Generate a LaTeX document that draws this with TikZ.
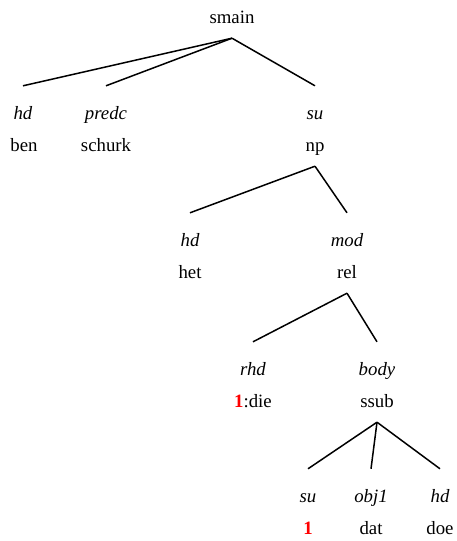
\documentclass[tikz,border=0pt]{standalone}
\usepackage{xcolor}
\usepackage{fontspec}
\setmainfont{Liberation Serif}
\usepackage{tikz}

\begin{document}
\begin{tikzpicture}[
    x=1pt, y=-1pt,
    cat/.style={anchor=base, inner sep=0pt, text depth=15pt, font=\fontsize{18.8}{22}\selectfont},
    rel/.style={anchor=base, inner sep=0pt, text height=33pt, font=\fontsize{18.8}{22}\selectfont\itshape},
    branch/.style={line width=1.5pt}
]
    \useasboundingbox (0,0) rectangle (456,541);

    % Root
    \node[cat] (smain) at (232,23) {smain};

    % Daughters of smain
    \node[rel] (r1) at (23,119) {hd};
    \node[cat] (ben) at (24,151) {ben};
    \node[rel] (r2) at (106,119) {predc};
    \node[cat] (schurk) at (106,151) {schurk};
    \node[rel] (r3) at (315,119) {su};
    \node[cat] (np) at (315,151) {np};

    % Daughters of np
    \node[rel] (r4) at (190,246) {hd};
    \node[cat] (het) at (190,278) {het};
    \node[rel] (r5) at (347,246) {mod};
    \node[cat] (rel) at (347,278) {rel};

    % Daughters of rel
    \node[rel] (r6) at (253,375) {rhd};
    \node[cat] (die) at (253,407) {\textcolor{red}{\textbf{1}}:die};
    \node[rel] (r7) at (377,375) {body};
    \node[cat] (ssub) at (377,407) {ssub};

    % Daughters of ssub
    \node[rel] (r8) at (308,502) {su};
    \node[cat] (idx) at (308,534) {\textcolor{red}{\textbf{1}}};
    \node[rel] (r9) at (371,502) {obj1};
    \node[cat] (dat) at (371,534) {dat};
    \node[rel] (r10) at (440,502) {hd};
    \node[cat] (doe) at (440,534) {doe};

    % Branches
    \draw[branch] (smain.south) -- (r1.north);
    \draw[branch] (smain.south) -- (r2.north);
    \draw[branch] (smain.south) -- (r3.north);
    \draw[branch] (np.south) -- (r4.north);
    \draw[branch] (np.south) -- (r5.north);
    \draw[branch] (rel.south) -- (r6.north);
    \draw[branch] (rel.south) -- (r7.north);
    \draw[branch] (ssub.south) -- (r8.north);
    \draw[branch] (ssub.south) -- (r9.north);
    \draw[branch] (ssub.south) -- (r10.north);

\end{tikzpicture}
\end{document}
